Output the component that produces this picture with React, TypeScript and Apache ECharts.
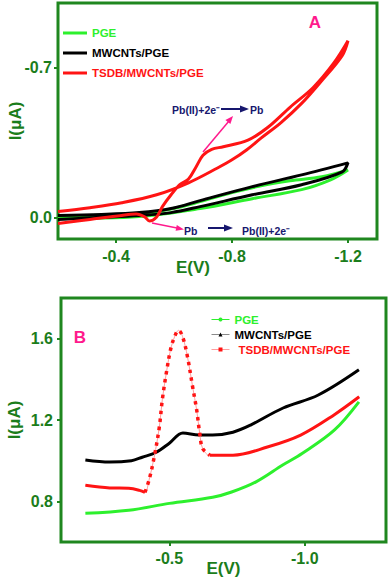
import React, { useEffect, useRef } from "react";
import * as echarts from "echarts";

// ---------- Panel A: cyclic voltammograms, [E (V), I (µA)] ----------
const aPGE = [
  [-0.2, 0.0], [-0.35, -0.006], [-0.48, -0.019], [-0.59, -0.04], [-0.69, -0.074],
  [-0.8, -0.116], [-0.9, -0.148], [-1.0, -0.171], [-1.11, -0.19], [-1.2, -0.222],
  [-1.14, -0.176], [-1.04, -0.13], [-0.87, -0.088], [-0.69, -0.042], [-0.48, -0.005], [-0.2, 0.005],
];
const aMWCNT = [
  [-0.2, -0.009], [-0.35, -0.014], [-0.48, -0.023], [-0.59, -0.042], [-0.69, -0.079],
  [-0.87, -0.144], [-1.04, -0.199], [-1.2, -0.255],
  [-1.18, -0.213], [-1.04, -0.153], [-0.87, -0.106], [-0.69, -0.051], [-0.59, -0.023],
  [-0.48, -0.009], [-0.35, 0.0], [-0.2, 0.009],
];
const aTSDB = [
  [-0.2, 0.028], [-0.31, 0.009], [-0.42, -0.01], [-0.47, -0.016], [-0.5, -0.002],
  [-0.515, 0.016], [-0.54, -0.003], [-0.56, -0.051], [-0.59, -0.106], [-0.62, -0.153],
  [-0.65, -0.18], [-0.676, -0.236], [-0.7, -0.29], [-0.73, -0.318], [-0.77, -0.33],
  [-0.855, -0.361], [-0.924, -0.421], [-1.0, -0.514], [-1.08, -0.606], [-1.15, -0.718], [-1.2, -0.824],
  [-1.18, -0.755], [-1.11, -0.639], [-1.04, -0.532], [-0.97, -0.444], [-0.9, -0.37],
  [-0.85, -0.315], [-0.8, -0.269], [-0.75, -0.231], [-0.65, -0.162], [-0.54, -0.106],
  [-0.42, -0.069], [-0.31, -0.046], [-0.2, -0.028],
];
const aXTicks = [-0.4, -0.8, -1.2];
const aYTicks = [-0.7, 0.0];

// ---------- Panel B: stripping voltammograms, [E (V), I (µA)] ----------
const bPGE = [
  [-0.19, 0.741], [-0.35, 0.756], [-0.5, 0.79], [-0.66, 0.82], [-0.73, 0.846],
  [-0.82, 0.896], [-0.92, 0.98], [-0.99, 1.035], [-1.11, 1.151], [-1.2, 1.289],
];
const bMWCNT = [
  [-0.19, 1.003], [-0.28, 0.993], [-0.36, 1.0], [-0.4, 1.017], [-0.45, 1.04],
  [-0.5, 1.086], [-0.55, 1.136], [-0.61, 1.126], [-0.66, 1.126], [-0.735, 1.14],
  [-0.8, 1.175], [-0.92, 1.259], [-1.05, 1.323], [-1.2, 1.447],
];
const bTSDBLeft = [
  [-0.19, 0.879], [-0.28, 0.866], [-0.35, 0.864], [-0.39, 0.854], [-0.41, 0.844],
];
const bTSDBPeak = [
  [-0.41, 0.844], [-0.425, 0.904], [-0.444, 1.017], [-0.463, 1.165], [-0.474, 1.299],
  [-0.489, 1.432], [-0.507, 1.56], [-0.526, 1.63], [-0.534, 1.641], [-0.549, 1.61],
  [-0.567, 1.511], [-0.586, 1.363], [-0.601, 1.249], [-0.612, 1.136], [-0.623, 1.06],
  [-0.649, 1.027],
];
const bTSDBRight = [
  [-0.649, 1.027], [-0.735, 1.027], [-0.862, 1.067], [-0.985, 1.126], [-1.108, 1.225], [-1.201, 1.314],
];
const bXTicks = [-0.5, -1.0];
const bYTicks = [0.8, 1.2, 1.6];

const FONT = "'Liberation Sans', Arial, sans-serif";
const AXIS = "#1f871f";
const LABEL = "#1b7d1b";
const GREEN = "#2df02d";
const RED = "#ff1414";
const BLACK = "#000000";
const PINK = "#ff1a8c";
const NAVY = "#17176e";

const fmt = (v: number) => v.toFixed(1);

function axisCommon(ticks: number[], margin: number) {
  return {
    type: "value",
    splitLine: { show: false },
    axisLine: { show: false, onZero: false },
    axisTick: {
      show: true,
      customValues: ticks,
      length: 4,
      lineStyle: { color: AXIS, width: 2 },
    },
    axisLabel: {
      customValues: ticks,
      formatter: fmt,
      color: LABEL,
      fontSize: 16,
      fontWeight: "bold",
      fontFamily: FONT,
      margin,
    },
    nameMoveOverlap: false,
    nameLocation: "middle",
    nameTextStyle: { color: LABEL, fontSize: 17, fontWeight: "bold", fontFamily: FONT },
  };
}

export default function App() {
  const ref = useRef<HTMLDivElement>(null);

  useEffect(() => {
    document.body.style.margin = "0";
    if (!ref.current) return;
    const chart = echarts.init(ref.current, undefined, { renderer: "svg" });

    const lineSeries = (name: string, data: number[][], color: string, axis: number, extra: any = {}) => ({
      type: "line",
      name,
      data,
      xAxisIndex: axis,
      yAxisIndex: axis,
      smooth: 0.35,
      symbol: "none",
      lineStyle: { color, width: 3 },
      itemStyle: { color },
      ...extra,
    });

    const annText = (text: string, x: number, y: number) => ({
      type: "text",
      x,
      y,
      style: {
        text,
        fill: NAVY,
        fontSize: 10.5,
        fontWeight: "bold",
        fontFamily: FONT,
        verticalAlign: "middle",
      },
    });

    const option: any = {
      animation: false,
      textStyle: { fontFamily: FONT },
      grid: [
        { left: 58, top: 3, width: 319, height: 236, show: true, borderColor: AXIS, borderWidth: 3, containLabel: false, outerBoundsMode: "none" },
        { left: 61, top: 298, width: 325, height: 244, show: true, borderColor: AXIS, borderWidth: 3, containLabel: false, outerBoundsMode: "none" },
      ],
      xAxis: [
        {
          ...axisCommon(aXTicks, 9),
          gridIndex: 0,
          min: -1.3,
          max: -0.2,
          inverse: true,
          name: "E(V)",
          nameGap: 20,
          nameTextStyle: {
            color: LABEL, fontSize: 17, fontWeight: "bold", fontFamily: FONT,
            padding: [0, 49, 0, 0],
          },
        },
        {
          ...axisCommon(bXTicks, 8),
          gridIndex: 1,
          min: -1.3,
          max: -0.1,
          inverse: true,
          name: "E(V)",
          nameGap: 18,
        },
      ],
      yAxis: [
        {
          ...axisCommon(aYTicks, 6),
          gridIndex: 0,
          min: -1.0,
          max: 0.1,
          inverse: true,
          name: "I(μA)",
          nameGap: 34,
        },
        {
          ...axisCommon(bYTicks, 8),
          gridIndex: 1,
          min: 0.6,
          max: 1.8,
          name: "I(μA)",
          nameGap: 38,
        },
      ],
      legend: [
        {
          data: [
            { name: "PGE", textStyle: { color: GREEN } },
            { name: "MWCNTs/PGE", textStyle: { color: BLACK } },
            { name: "TSDB/MWCNTs/PGE", textStyle: { color: RED } },
          ],
          orient: "vertical",
          left: 63,
          top: 26,
          padding: 0,
          itemGap: 6,
          itemWidth: 24,
          itemHeight: 3,
          icon: "rect",
          selectedMode: false,
          textStyle: { fontSize: 11.5, fontWeight: "bold", fontFamily: FONT, lineHeight: 14 },
        },
        {
          data: [
            { name: "B:PGE", textStyle: { color: GREEN }, lineStyle: { color: GREEN, width: 1 } },
            { name: "B:MWCNTs/PGE", textStyle: { color: BLACK }, lineStyle: { color: "#8a8a8a", width: 1 } },
            { name: "B:TSDB/MWCNTs/PGE", textStyle: { color: RED, padding: [0, 0, 0, 4] }, lineStyle: { color: "#ff9d9d", width: 1 } },
          ],
          formatter: (n: string) => n.slice(2),
          orient: "vertical",
          left: 211,
          top: 313,
          padding: 0,
          itemGap: 2,
          itemWidth: 18,
          itemHeight: 5,
          selectedMode: false,
          textStyle: { fontSize: 11.5, fontWeight: "bold", fontFamily: FONT, lineHeight: 13 },
        },
      ],
      series: [
        lineSeries("PGE", aPGE, GREEN, 0),
        lineSeries("MWCNTs/PGE", aMWCNT, BLACK, 0),
        lineSeries("TSDB/MWCNTs/PGE", aTSDB, RED, 0),
        lineSeries("B:PGE", bPGE, GREEN, 1, { symbol: "circle", showSymbol: false }),
        lineSeries("B:MWCNTs/PGE", bMWCNT, BLACK, 1, { symbol: "triangle", showSymbol: false }),
        lineSeries("B:TSDB/MWCNTs/PGE", [...bTSDBLeft, ...bTSDBPeak.slice(1), ...bTSDBRight.slice(1)], RED, 1, {
          symbol: "rect",
          showSymbol: false,
          lineStyle: { color: "#ff9d9d", width: 1 },
        }),
        lineSeries("tsdbLeft", bTSDBLeft, RED, 1),
        lineSeries("tsdbPeak", bTSDBPeak, RED, 1, {
          lineStyle: { color: RED, width: 3.5, type: [3.5, 4.5], cap: "butt" },
        }),
        lineSeries("tsdbRight", bTSDBRight, RED, 1),
      ],
      graphic: [
        {
          type: "text", x: 315, y: 22,
          style: { text: "A", fill: PINK, fontSize: 17, fontWeight: "bold", fontFamily: FONT, align: "center", verticalAlign: "middle" },
        },
        {
          type: "text", x: 80, y: 337,
          style: { text: "B", fill: PINK, fontSize: 17, fontWeight: "bold", fontFamily: FONT, align: "center", verticalAlign: "middle" },
        },
        // top annotation: Pb(II)+2e- -> Pb
        annText("Pb(II)+2e⁻", 172, 109.5),
        { type: "line", shape: { x1: 221, y1: 109, x2: 242, y2: 109 }, style: { stroke: NAVY, lineWidth: 2 } },
        { type: "polygon", shape: { points: [[240, 105.5], [249, 109], [240, 112.5]] }, style: { fill: NAVY } },
        annText("Pb", 250, 109.5),
        { type: "line", shape: { x1: 203, y1: 152, x2: 229, y2: 121 }, style: { stroke: PINK, lineWidth: 1.5 } },
        { type: "polygon", shape: { points: [[233, 116], [230.4, 124.1], [225.4, 120.1]] }, style: { fill: PINK } },
        // bottom annotation: Pb -> Pb(II)+2e-
        { type: "line", shape: { x1: 152, y1: 223, x2: 177, y2: 228 }, style: { stroke: PINK, lineWidth: 1.5 } },
        { type: "polygon", shape: { points: [[184, 229.5], [175.6, 230.8], [176.8, 225.0]] }, style: { fill: PINK } },
        annText("Pb", 184, 231),
        { type: "line", shape: { x1: 208, y1: 228, x2: 226, y2: 228 }, style: { stroke: NAVY, lineWidth: 2 } },
        { type: "polygon", shape: { points: [[224, 224.5], [233, 228], [224, 231.5]] }, style: { fill: NAVY } },
        annText("Pb(II)+2e⁻", 242, 230.5),
      ],
    };

    chart.setOption(option);
    return () => chart.dispose();
  }, []);

  return <div ref={ref} style={{ width: 390, height: 580 }} />;
}
